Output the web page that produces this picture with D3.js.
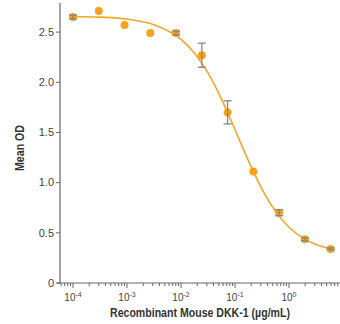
<!DOCTYPE html>
<html>
<head>
<meta charset="utf-8">
<script src="https://cdn.jsdelivr.net/npm/d3@7"></script>
<style>
  body { margin: 0; background: #fff; }
  svg text { font-family: "Liberation Sans Narrow", "Liberation Sans", "Roboto", sans-serif; font-stretch: condensed; fill: #333; }
</style>
</head>
<body>
<div id="chart"></div>
<script>
// measured points (3-fold serial dilution)
const conc = [0.0001, 0.0003, 0.0009, 0.0027, 0.0081, 0.0243, 0.0729, 0.2187, 0.6561, 1.9683, 5.9049];
const meanOD = [2.65, 2.71, 2.57, 2.49, 2.49, 2.27, 1.70, 1.11, 0.70, 0.435, 0.34];
const errOD = [0.02, 0, 0, 0, 0.02, 0.12, 0.115, 0, 0.03, 0.015, 0.01];

// fitted curve
const curveConc = [0.0001, 0.000316, 0.001, 0.00316, 0.01, 0.0178, 0.0316, 0.0562, 0.1, 0.178, 0.316, 0.562, 1, 1.78, 3.16, 5.9];
const curveOD = [2.656, 2.649, 2.630, 2.574, 2.428, 2.290, 2.093, 1.833, 1.527, 1.215, 0.936, 0.714, 0.556, 0.450, 0.383, 0.339];

const yTicks = [0, 0.5, 1.0, 1.5, 2.0, 2.5];
const yTickLabels = ["0", "0.5", "1.0", "1.5", "2.0", "2.5"];
const xDecades = [-4, -3, -2, -1, 0];

const W = 340, H = 324;
const svg = d3.select("#chart").append("svg")
    .attr("width", W)
    .attr("height", H);

const x = d3.scaleLog().domain([5.74e-5, 8.8]).range([60, 340]);
const y = d3.scaleLinear().domain([0, 2.79]).range([283, 3]);

const axisColor = "#666";

// y axis
svg.append("line")
    .attr("x1", 60).attr("x2", 60)
    .attr("y1", y(0)).attr("y2", 3)
    .attr("stroke", axisColor).attr("stroke-width", 1.2);

yTicks.forEach((t, k) => {
    svg.append("line")
        .attr("x1", 56).attr("x2", 60)
        .attr("y1", y(t)).attr("y2", y(t))
        .attr("stroke", axisColor);
    svg.append("text")
        .attr("x", 54)
        .attr("y", y(t))
        .attr("dy", "0.35em")
        .attr("text-anchor", "end")
        .style("font-size", "11px")
        .style("fill", "#444")
        .text(yTickLabels[k]);
});

// x axis
svg.append("line")
    .attr("x1", 57).attr("x2", 340)
    .attr("y1", y(0)).attr("y2", y(0))
    .attr("stroke", axisColor).attr("stroke-width", 1.2);

// minor + major ticks
const minorTicks = [];
for (let e = -5; e <= 0; e++) {
    for (let m = 1; m <= 9; m++) {
        const v = m * Math.pow(10, e);
        if (v >= x.domain()[0] && v <= x.domain()[1]) minorTicks.push(v);
    }
}
svg.selectAll(".xtick")
    .data(minorTicks)
    .enter().append("line")
    .attr("class", "xtick")
    .attr("x1", d => x(d)).attr("x2", d => x(d))
    .attr("y1", y(0))
    .attr("y2", d => y(0) + (Math.abs(Math.log10(d) - Math.round(Math.log10(d))) < 1e-9 ? 5 : 3))
    .attr("stroke", axisColor);

xDecades.forEach(e => {
    const t = svg.append("text")
        .attr("x", x(Math.pow(10, e)))
        .attr("y", 301)
        .attr("text-anchor", "middle")
        .style("font-size", "10px")
        .style("fill", "#444");
    t.append("tspan").text("10");
    t.append("tspan")
        .attr("dy", -4)
        .style("font-size", "7px")
        .text(e === 0 ? "0" : "-" + Math.abs(e));
});

// axis titles
svg.append("text")
    .attr("transform", `translate(24,${148}) rotate(-90)`)
    .attr("text-anchor", "middle")
    .attr("textLength", 46)
    .attr("lengthAdjust", "spacingAndGlyphs")
    .style("font-size", "12.5px")
    .style("font-weight", "bold")
    .text("Mean OD");

svg.append("text")
    .attr("x", 200)
    .attr("y", 317)
    .attr("text-anchor", "middle")
    .attr("textLength", 180)
    .attr("lengthAdjust", "spacingAndGlyphs")
    .style("font-size", "13px")
    .style("font-weight", "bold")
    .text("Recombinant Mouse DKK-1 (\u00b5g/mL)");

// fitted curve
const fit = curveConc.map((c, k) => [c, curveOD[k]]);
svg.append("path")
    .datum(fit)
    .attr("fill", "none")
    .attr("stroke", "#f5a52a")
    .attr("stroke-width", 1.6)
    .attr("d", d3.line()
        .x(d => x(d[0]))
        .y(d => y(d[1]))
        .curve(d3.curveMonotoneX));

// points
const pts = conc.map((c, k) => ({c: c, v: meanOD[k], e: errOD[k]}));
svg.selectAll(".dot")
    .data(pts)
    .enter().append("circle")
    .attr("class", "dot")
    .attr("cx", d => x(d.c))
    .attr("cy", d => y(d.v))
    .attr("r", 4)
    .attr("fill", "#f7a21c");

// error bars
const eb = svg.selectAll(".err")
    .data(pts.filter(d => d.e > 0))
    .enter().append("g")
    .attr("class", "err")
    .attr("stroke", "#858585")
    .attr("stroke-width", 1.3);
eb.append("line")
    .attr("x1", d => x(d.c)).attr("x2", d => x(d.c))
    .attr("y1", d => y(d.v - d.e)).attr("y2", d => y(d.v + d.e));
eb.append("line")
    .attr("x1", d => x(d.c) - 4).attr("x2", d => x(d.c) + 4)
    .attr("y1", d => y(d.v - d.e)).attr("y2", d => y(d.v - d.e));
eb.append("line")
    .attr("x1", d => x(d.c) - 4).attr("x2", d => x(d.c) + 4)
    .attr("y1", d => y(d.v + d.e)).attr("y2", d => y(d.v + d.e));
</script>
</body>
</html>
